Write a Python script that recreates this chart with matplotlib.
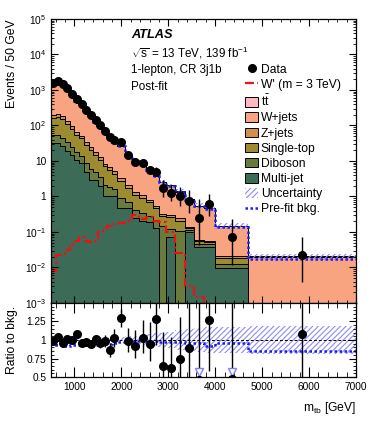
import matplotlib
matplotlib.use("Agg")
import matplotlib.pyplot as plt
import numpy as np
from matplotlib.patches import Patch
from matplotlib.lines import Line2D
from matplotlib.ticker import MultipleLocator, FixedLocator, LogLocator, NullFormatter

plt.rcParams["font.family"] = ["Liberation Sans", "DejaVu Sans"]
plt.rcParams["mathtext.fontset"] = "custom"
plt.rcParams["mathtext.rm"] = "Liberation Sans"
plt.rcParams["mathtext.it"] = "Liberation Sans:italic"
plt.rcParams["mathtext.bf"] = "Liberation Sans:bold"
plt.rcParams["mathtext.default"] = "regular"
plt.rcParams["hatch.linewidth"] = 0.8

# ---- data (values per 50 GeV) ----
bin_edges = [500, 600, 700, 800, 900, 1000, 1100, 1200, 1300, 1400, 1500, 1600, 1700,
             1800, 1900, 2075, 2225, 2375, 2525, 2675, 2810, 2950, 3150, 3350, 3550,
             3750, 4000, 4700, 7000]

data = [1600, 1800, 1500, 1150, 780, 560, 400, 270, 195, 140, 100, 70, 48, 39,
        35, 15, 9.5, 8.6, 5.6, 5.0, 1.7, 1.28, 1.03, 0.76, 0.25, 0.61, 0.07, 0.022]

multijet = [33, 33, 26, 19.5, 15, 11, 8.6, 5.0, 2.9, 2.9, 2.0, 1.0, 1.0, 1.0,
            0.47, 0.47, 0.24, 0.2, 0.19, 0.13, 0, 0.071, 0, 0.098, 0.039, 0.039, 0.0097, 0]
diboson = [20, 21, 19, 14, 10, 7, 5.5, 3.8, 2.9, 2.0, 1.5, 1.05, 0.85, 0.6,
           0.43, 0.25, 0.17, 0.14, 0.1, 0.07, 0.15, 0.05, 0.11, 0.015, 0.008, 0.006, 0.003, 0]
singletop = [110, 115, 105, 78, 54, 36, 29, 19.5, 14.5, 9.8, 7.3, 5.0, 3.9, 2.7,
             1.9, 1.05, 0.72, 0.58, 0.41, 0.27, 0.13, 0.14, 0.1, 0.02, 0.01, 0.007, 0.006, 0]
zjets = [33, 35, 31, 23, 16, 10, 8.3, 5.5, 4.1, 2.8, 2.1, 1.4, 1.1, 0.76,
         0.54, 0.3, 0.2, 0.17, 0.12, 0.08, 0.05, 0.04, 0.03, 0.007, 0.003, 0.003, 0.003, 0]
wjets = [1418, 1509, 1363, 994, 677, 446, 361, 239, 180, 120, 90, 62, 48.5, 32.6,
         23.4, 12.95, 8.87, 7.22, 5.02, 3.31, 2.25, 1.74, 1.14, 0.70, 0.484, 0.42, 0.125, 0.0202]
ttbar = [16, 17, 16, 11, 8, 5, 4.2, 2.8, 2.1, 1.4, 1.1, 0.7, 0.55, 0.38,
         0.27, 0.15, 0.1, 0.09, 0.06, 0.04, 0.025, 0.02, 0.015, 0.01, 0.006, 0.005, 0.0015, 0.0002]

wprime = [0.008, 0.022, 0.023, 0.031, 0.045, 0.055, 0.07, 0.055, 0.052, 0.055, 0.1, 0.13,
          0.15, 0.17, 0.18, 0.21, 0.30, 0.23, 0.26, 0.21, 0.19, 0.1, 0.025, 0.003,
          0.0015, 0.0008, 0, 0]

# pre-fit / post-fit background, relative uncertainty on post-fit background
prefit_ratio = [0.94, 0.93, 0.93, 0.92, 0.93, 0.93, 0.93, 0.93, 0.92, 0.93, 0.93, 0.94, 0.94,
                0.96, 0.97, 0.97, 0.98, 0.98, 0.97, 0.98, 0.97, 0.97, 0.97, 0.96, 0.96,
                0.92, 0.96, 0.855]
bkg_unc = [0.02, 0.02, 0.02, 0.02, 0.02, 0.02, 0.02, 0.02, 0.02, 0.02, 0.02, 0.02, 0.025,
           0.03, 0.04, 0.05, 0.06, 0.07, 0.08, 0.09, 0.1, 0.11, 0.13, 0.15, 0.16, 0.17,
           0.18, 0.19]

components = [("Multi-jet", multijet, "#3c6b58"),
              ("Diboson", diboson, "#6a7c3b"),
              ("Single-top", singletop, "#9d8b2f"),
              ("Z+jets", zjets, "#d0904a"),
              ("W+jets", wjets, "#f8a481"),
              (r"$t\bar{t}$", ttbar, "#ffb9c2")]

edges = np.array(bin_edges, dtype=float)
centers = 0.5 * (edges[:-1] + edges[1:])
widths = np.diff(edges)
dat = np.array(data)
total = np.sum([np.array(c[1]) for c in components], axis=0)

# Poisson (Garwood-like) errors on event counts
n = dat * widths / 50.0
err_hi = (np.sqrt(n + 0.75) + 1.0) * 50.0 / widths
err_lo = (n - n * (1 - 1 / (9 * n) - 1 / (3 * np.sqrt(n))) ** 3) * 50.0 / widths

fig = plt.figure(figsize=(3.74, 4.21), dpi=100)
ax = fig.add_axes([0.1364, 0.2803, 0.8155, 0.6746])
rax = fig.add_axes([0.1364, 0.1045, 0.8155, 0.1758], sharex=ax)

# ---- main panel ----
base = np.full(len(centers), 1e-6)
for label, vals, col in components:
    top = base + np.array(vals)
    ax.stairs(top, edges, baseline=base, fill=True, facecolor=col,
              edgecolor="black", linewidth=0.7)
    base = top

unc_col = "#8c8cf5"
ax.stairs(total * (1 + np.array(bkg_unc)), edges, baseline=total * (1 - np.array(bkg_unc)),
          fill=True, facecolor="none", edgecolor=unc_col, hatch="//////", linewidth=0)
ax.stairs(np.array(wprime) + 1e-6, edges, baseline=None, color="#ee1111",
          linestyle=(0, (4, 1.5, 1, 1.5)), linewidth=1.6)
ax.stairs(total * np.array(prefit_ratio), edges, baseline=None, color="#1a1aff",
          linestyle=(0, (1, 1)), linewidth=1.8)
ax.errorbar(centers, dat, yerr=[err_lo, err_hi], fmt="o", color="black",
            markersize=5.5, elinewidth=1.0, capsize=0)

ax.set_yscale("log")
ax.set_ylim(1e-3, 1e5)
ax.set_xlim(500, 7000)
ax.set_yticks([1e-3, 1e-2, 1e-1, 1, 10, 1e2, 1e3, 1e4, 1e5])
ax.set_yticklabels([r"$10^{-3}$", r"$10^{-2}$", r"$10^{-1}$", "1", "10",
                    r"$10^{2}$", r"$10^{3}$", r"$10^{4}$", r"$10^{5}$"])
ax.yaxis.set_minor_locator(LogLocator(base=10, subs=np.arange(2, 10), numticks=20))
ax.yaxis.set_minor_formatter(NullFormatter())
ax.set_ylabel("Events / 50 GeV", fontsize=8.7, loc="top")
ax.yaxis.label.set_va("center")
ax.yaxis.set_label_coords(-0.128, 1.0)
plt.setp(ax.get_xticklabels(), visible=False)

ax.text(0.262, 0.942, "ATLAS", transform=ax.transAxes, fontsize=9.2,
        fontweight="bold", fontstyle="italic", va="center")
ax.text(0.262, 0.880, r"$\sqrt{s}$ = 13 TeV, 139 fb$^{-1}$", transform=ax.transAxes,
        fontsize=8.4, va="center")
ax.text(0.262, 0.819, "1-lepton, CR 3j1b", transform=ax.transAxes, fontsize=8.4, va="center")
ax.text(0.262, 0.762, "Post-fit", transform=ax.transAxes, fontsize=8.4, va="center")

handles = [Line2D([], [], marker="o", color="black", linestyle="none", markersize=5.5),
           Line2D([], [], color="#ee1111", linestyle=(0, (4, 1.5, 1, 1.5)), linewidth=1.6)]
labels = ["Data", "W' (m = 3 TeV)"]
for label, vals, col in components[::-1]:
    handles.append(Patch(facecolor=col, edgecolor="black", linewidth=0.7))
    labels.append(label)
handles.append(Patch(facecolor="none", edgecolor=unc_col, hatch="//////", linewidth=0))
labels.append("Uncertainty")
handles.append(Line2D([], [], color="#1a1aff", linestyle=(0, (1, 1)), linewidth=1.8))
labels.append("Pre-fit bkg.")
ax.legend(handles, labels, loc="upper left", bbox_to_anchor=(0.636, 0.843), frameon=False,
          fontsize=8.7, handlelength=1.1, handleheight=0.85, handletextpad=0.2,
          labelspacing=0.26, borderaxespad=0, borderpad=0)

# ---- ratio panel ----
ratio = dat / total
r_lo = err_lo / total
r_hi = err_hi / total
unc = np.array(bkg_unc)
rax.stairs(1 + unc, edges, baseline=1 - unc, fill=True, facecolor="none",
           edgecolor=unc_col, hatch="//////", linewidth=0)
rax.axhline(1.0, color="black", linestyle=(0, (3, 2)), linewidth=0.7)
rax.stairs(np.array(prefit_ratio), edges, baseline=None, color="#1a1aff",
           linestyle=(0, (1, 1)), linewidth=1.8)
rax.errorbar(centers, ratio, yerr=[r_lo, r_hi], fmt="o", color="black",
             markersize=5.5, elinewidth=1.0, capsize=0)
low = ratio < 0.5
rax.plot(centers[low], np.full(low.sum(), 0.565), linestyle="none", marker="v",
         markersize=6, markerfacecolor="white", markeredgecolor="#7f7fff",
         markeredgewidth=1.0, clip_on=False)

rax.set_ylim(0.5, 1.5)
rax.set_xlim(500, 7000)
rax.yaxis.set_major_locator(FixedLocator([0.5, 0.75, 1.0, 1.25]))
rax.set_yticklabels(["0.5", "0.75", "1", "1.25"])
rax.yaxis.set_minor_locator(MultipleLocator(0.05))
rax.set_ylabel("Ratio to bkg.", fontsize=8.7)
rax.yaxis.label.set_va("center")
rax.yaxis.set_label_coords(-0.128, 0.5)
rax.set_xticks([1000, 2000, 3000, 4000, 5000, 6000, 7000])
rax.xaxis.set_minor_locator(MultipleLocator(200))
rax.set_xlabel(r"m$_{tb}$ [GeV]", fontsize=8.7, loc="right")
rax.xaxis.set_label_coords(1.0, -0.31)

for a in (ax, rax):
    a.tick_params(which="both", direction="in", top=True, right=True, labelsize=7.3)
    a.tick_params(which="major", length=5, width=0.8)
    a.tick_params(which="minor", length=2.5, width=0.6)
    for s in a.spines.values():
        s.set_linewidth(0.9)
ax.xaxis.set_minor_locator(MultipleLocator(200))
rax.tick_params(axis="x", which="major", length=7)
rax.tick_params(axis="x", which="minor", length=3.5)

fig.savefig("out.png", dpi=100)
